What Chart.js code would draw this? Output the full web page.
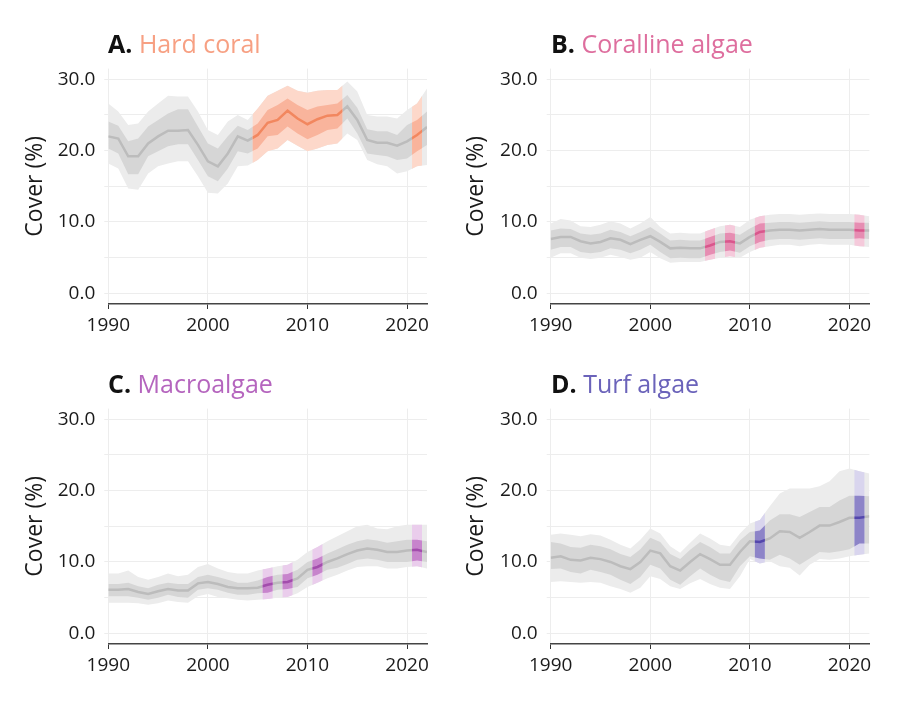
<!DOCTYPE html>
<html>
<head>
<meta charset="utf-8">
<script src="https://cdn.jsdelivr.net/npm/chart.js@4/dist/chart.umd.min.js"></script>
<style>
  body { margin: 0; background: #fff; }
  #page { position: relative; width: 900px; height: 702px; overflow: hidden; font-family: 'Open Sans', sans-serif; }
  canvas { position: absolute; }
  .ttl { position: absolute; font-size: 25px; line-height: 30px; white-space: nowrap; z-index: 2; }
  .ttl b { color: #111; font-weight: 700; }
</style>
</head>
<body>
<div id="page">
  <canvas id="cA" width="450" height="345" style="left:0;top:0"></canvas>
  <canvas id="cB" width="450" height="345" style="left:450px;top:0"></canvas>
  <canvas id="cC" width="450" height="357" style="left:0;top:345px"></canvas>
  <canvas id="cD" width="450" height="357" style="left:450px;top:345px"></canvas>
  <div class="ttl" style="left:108px;top:27.5px"><b>A.</b> <span style="color:#F7A083">Hard coral</span></div>
  <div class="ttl" style="left:551px;top:27.5px"><b>B.</b> <span style="color:#DE6E9E">Coralline algae</span></div>
  <div class="ttl" style="left:108px;top:367.5px"><b>C.</b> <span style="color:#B565BE">Macroalgae</span></div>
  <div class="ttl" style="left:551px;top:367.5px"><b>D.</b> <span style="color:#6B63BA">Turf algae</span></div>
</div>
<script>
const years = [1990, 1991, 1992, 1993, 1994, 1995, 1996, 1997, 1998, 1999, 2000, 2001, 2002, 2003, 2004, 2005,
  2006, 2007, 2008, 2009, 2010, 2011, 2012, 2013, 2014, 2015, 2016, 2017, 2018, 2019, 2020, 2021, 2022];
const yTicks = [0, 10, 20, 30];

// A. Hard coral
const coralMid  = [22.0, 21.7, 19.2, 19.2, 21.0, 22.0, 22.8, 22.8, 22.9, 20.8, 18.5, 17.8, 19.6, 22.0, 21.4, 22.2, 23.9, 24.3, 25.6, 24.5, 23.7, 24.4, 24.9, 25.0, 26.2, 24.3, 21.5, 21.1, 21.1, 20.7, 21.3, 22.2, 23.3];
const coralHi50 = [24.1, 23.5, 21.3, 21.7, 23.4, 24.3, 25.2, 25.8, 25.8, 23.4, 21.0, 20.3, 22.0, 23.5, 22.9, 23.8, 25.7, 26.4, 27.3, 26.4, 25.7, 26.2, 26.4, 26.6, 27.8, 26.0, 23.0, 22.7, 22.7, 22.2, 23.6, 24.3, 25.5];
const coralLo50 = [20.3, 19.6, 16.7, 16.7, 19.2, 19.9, 20.6, 20.9, 20.9, 18.7, 16.4, 15.7, 17.5, 19.9, 19.6, 20.3, 22.0, 22.2, 23.4, 22.4, 21.6, 22.2, 22.9, 23.1, 24.5, 22.4, 19.6, 19.4, 19.2, 18.7, 18.9, 19.9, 20.8];
const coralHi80 = [26.6, 25.5, 23.6, 23.8, 25.5, 26.6, 27.7, 27.6, 27.6, 25.5, 22.9, 22.2, 24.1, 25.0, 24.3, 25.9, 27.7, 28.4, 29.1, 28.4, 28.1, 28.4, 28.5, 28.5, 29.7, 28.3, 25.0, 24.8, 24.8, 24.5, 25.7, 26.6, 28.7];
const coralLo80 = [18.2, 17.5, 14.7, 14.5, 16.8, 17.8, 18.2, 18.5, 18.5, 16.4, 14.1, 14.0, 15.4, 17.8, 17.9, 18.7, 19.9, 20.3, 21.5, 20.7, 19.9, 20.3, 20.8, 21.0, 22.4, 21.5, 18.7, 18.1, 17.8, 16.8, 17.1, 17.8, 18.0];
const coralObs  = [2005, 2006, 2007, 2008, 2009, 2010, 2011, 2012, 2013, 2021];

// B. Coralline algae
const ccaMid  = [7.6, 7.9, 7.9, 7.3, 7.0, 7.2, 7.7, 7.5, 6.9, 7.5, 8.0, 7.2, 6.3, 6.4, 6.3, 6.3, 6.7, 7.2, 7.3, 7.0, 7.9, 8.6, 8.8, 8.9, 8.9, 8.8, 8.9, 9.0, 8.9, 8.9, 8.9, 8.8, 8.8];
const ccaHi50 = [8.8, 9.1, 9.0, 8.4, 8.2, 8.4, 8.9, 8.6, 8.0, 8.6, 9.3, 8.4, 7.4, 7.5, 7.4, 7.4, 7.9, 8.4, 8.5, 8.2, 9.1, 9.8, 9.9, 10.0, 10.0, 9.9, 10.0, 10.1, 10.0, 10.0, 10.0, 9.9, 9.9];
const ccaLo50 = [6.1, 6.5, 6.5, 5.8, 5.6, 5.8, 6.3, 6.1, 5.6, 6.1, 6.8, 5.8, 4.9, 5.0, 4.9, 4.9, 5.4, 5.8, 6.0, 5.7, 6.6, 7.2, 7.5, 7.6, 7.6, 7.5, 7.6, 7.7, 7.6, 7.6, 7.6, 7.7, 7.6];
const ccaHi80 = [9.8, 10.4, 10.2, 9.4, 9.3, 9.6, 10.1, 9.8, 9.1, 9.8, 10.7, 9.3, 8.4, 8.5, 8.4, 8.4, 8.9, 9.4, 9.6, 9.3, 10.3, 10.8, 11.0, 11.1, 11.1, 11.0, 11.1, 11.2, 11.1, 11.1, 11.1, 11.0, 10.8];
const ccaLo80 = [5.0, 5.6, 5.6, 5.0, 4.8, 5.0, 5.4, 5.1, 4.7, 5.0, 5.8, 4.9, 4.3, 4.4, 4.4, 4.4, 4.7, 5.0, 5.2, 5.0, 5.8, 6.4, 6.6, 6.8, 6.8, 6.6, 6.8, 6.9, 6.8, 6.8, 6.8, 6.6, 6.5];
const ccaObs  = [2006, 2008, 2011, 2021];

// C. Macroalgae
const macroMid  = [6.1, 6.1, 6.2, 5.8, 5.5, 5.9, 6.2, 6.0, 6.0, 7.0, 7.2, 6.9, 6.5, 6.3, 6.3, 6.4, 6.8, 7.1, 7.2, 7.7, 8.9, 9.3, 10.0, 10.5, 11.1, 11.6, 11.9, 11.7, 11.4, 11.4, 11.6, 11.7, 11.4];
const macroHi50 = [6.9, 6.9, 7.1, 6.6, 6.3, 6.8, 7.1, 6.9, 6.9, 7.9, 8.2, 7.9, 7.5, 7.1, 7.1, 7.4, 7.9, 8.2, 8.3, 8.9, 10.0, 10.5, 11.2, 11.8, 12.4, 12.9, 13.2, 13.0, 12.7, 12.9, 13.1, 13.1, 12.9];
const macroLo50 = [5.2, 5.2, 5.2, 5.0, 4.7, 5.0, 5.4, 5.1, 5.0, 6.1, 6.3, 6.1, 5.7, 5.4, 5.4, 5.6, 5.7, 6.1, 6.2, 6.5, 7.7, 8.2, 8.9, 9.2, 9.7, 10.3, 10.5, 10.3, 10.0, 10.0, 10.0, 10.2, 10.0];
const macroHi80 = [8.4, 8.4, 8.8, 7.9, 7.5, 7.9, 8.4, 8.0, 8.2, 9.3, 9.7, 9.1, 8.6, 8.4, 8.4, 8.8, 9.1, 9.4, 9.6, 10.3, 11.4, 12.1, 12.9, 13.6, 14.3, 15.0, 15.2, 14.7, 14.6, 15.0, 15.2, 15.2, 15.2];
const macroLo80 = [4.3, 4.3, 4.3, 4.2, 4.0, 4.2, 4.6, 4.4, 4.3, 5.2, 5.5, 5.1, 4.9, 4.7, 4.6, 4.7, 4.8, 5.0, 5.1, 5.6, 6.5, 7.1, 7.7, 8.2, 8.8, 9.3, 9.4, 9.4, 9.1, 9.1, 9.3, 9.4, 9.1];
const macroObs  = [2006, 2008, 2011, 2021];

// D. Turf algae
const turfMid  = [10.6, 10.8, 10.3, 10.2, 10.6, 10.4, 10.0, 9.4, 9.0, 10.0, 11.6, 11.2, 9.4, 8.8, 10.0, 11.1, 10.4, 9.6, 9.6, 11.4, 12.9, 12.8, 13.3, 14.3, 14.2, 13.4, 14.2, 15.1, 15.1, 15.6, 16.2, 16.2, 16.4];
const turfHi50 = [12.8, 12.6, 12.1, 12.0, 12.4, 12.2, 11.8, 11.1, 10.7, 11.8, 13.4, 12.8, 11.1, 10.4, 11.7, 12.8, 12.1, 11.2, 11.2, 13.0, 14.2, 14.4, 15.8, 16.7, 16.7, 16.3, 17.0, 17.7, 17.7, 18.6, 19.3, 19.3, 19.2];
const turfLo50 = [9.0, 9.1, 8.6, 8.4, 8.9, 8.6, 8.2, 7.5, 6.9, 7.9, 9.6, 9.1, 7.5, 6.8, 8.0, 9.1, 8.2, 7.5, 7.2, 9.4, 10.8, 10.5, 10.3, 11.0, 10.5, 9.6, 10.5, 11.4, 11.3, 11.5, 11.8, 12.6, 12.6];
const turfHi80 = [13.8, 14.0, 13.8, 13.6, 13.9, 13.7, 13.1, 12.4, 11.9, 13.1, 14.7, 14.0, 12.2, 11.3, 12.7, 14.0, 13.3, 12.4, 12.2, 14.0, 15.4, 15.9, 17.8, 19.6, 20.3, 20.3, 20.3, 20.6, 21.3, 22.7, 23.1, 22.7, 22.4];
const turfLo80 = [7.2, 7.3, 7.2, 7.1, 7.2, 7.1, 6.6, 6.2, 5.7, 6.4, 8.0, 7.6, 6.6, 6.2, 7.0, 7.6, 6.9, 6.4, 6.2, 8.0, 10.4, 9.8, 10.1, 9.4, 9.2, 8.1, 9.6, 10.4, 10.3, 10.5, 10.8, 11.0, 11.2];
const turfObs  = [2011, 2021];

const grey = { outer: '#ECECEC', inner: '#D6D6D6', line: '#BCBCBC' };

// clip a dataset (and its fill) to the observed years, +/- half a year
const yearClip = {
  id: 'yearClip',
  beforeDatasetDraw(chart, args) {
    const ds = chart.data.datasets[args.index];
    if (!ds.years) return;
    const { ctx, chartArea, scales: { x } } = chart;
    ctx.save();
    ctx.beginPath();
    ds.years.forEach(yr => {
      const l = x.getPixelForValue(yr - 0.5);
      const r = x.getPixelForValue(yr + 0.5);
      ctx.rect(l, chartArea.top, r - l, chartArea.bottom - chartArea.top);
    });
    ctx.clip();
  },
  afterDatasetDraw(chart, args) {
    if (chart.data.datasets[args.index].years) chart.ctx.restore();
  }
};
// the clip has to be in place before the filler paints the band
const filler = Chart.registry.getPlugin('filler');
Chart.unregister(filler);
Chart.register(yearClip, filler);

const pts = arr => years.map((yr, i) => ({ x: yr, y: arr[i] }));

function bandSets(s, col, obs) {
  const base = { pointRadius: 0, tension: 0, borderWidth: 0, years: obs };
  return [
    { ...base, data: pts(s.hi80), fill: '+1', backgroundColor: col.outer },
    { ...base, data: pts(s.lo80), fill: false },
    { ...base, data: pts(s.hi50), fill: '+1', backgroundColor: col.inner },
    { ...base, data: pts(s.lo50), fill: false },
    { ...base, data: pts(s.mid), fill: false, borderWidth: 2.5, borderColor: col.line }
  ];
}

function panel(id, s, col, obs, lay) {
  const sets = bandSets(s, grey, undefined).concat(bandSets(s, col, obs));
  sets.forEach((d, i) => { d.order = sets.length - i; });
  new Chart(document.getElementById(id), {
    type: 'line',
    data: { datasets: sets },
    options: {
      responsive: false,
      animation: false,
      layout: { padding: lay.pad },
      plugins: { legend: { display: false }, tooltip: { enabled: false } },
      scales: {
        x: {
          type: 'linear', min: 1990, max: 2022,
          afterFit: sc => { sc.height = 40; },
          ticks: { stepSize: 10, includeBounds: false, padding: 5, color: '#1a1a1a',
                   font: { family: 'Open Sans', size: 19 }, callback: v => String(v) },
          grid: { color: '#EDEDED', tickColor: '#333', tickLength: 5, lineWidth: 1 },
          border: { display: true, color: '#444', width: 1.5 }
        },
        y: {
          min: -1.5, max: 31.5,
          afterFit: sc => { sc.width = lay.yw; },
          ticks: { stepSize: 5, includeBounds: false, padding: 9, color: '#1a1a1a',
                   font: { family: 'Open Sans', size: 19 },
                   callback: v => yTicks.includes(v) ? v.toFixed(1) : '' },
          grid: { color: '#EDEDED', tickColor: '#EDEDED', tickLength: 4, lineWidth: 1 },
          border: { display: false },
          title: { display: true, text: 'Cover (%)', color: '#1a1a1a',
                   font: { family: 'Open Sans', size: 23 }, padding: { top: lay.tp, bottom: 0 } }
        }
      }
    }
  });
}

const layTop  = { pad: { top: 68.6, right: 23, bottom: 1, left: 0 }, yw: 108.3, tp: 21.2 };
const layTopR = { pad: { top: 68.6, right: 30.6, bottom: 1, left: 0 }, yw: 100.7, tp: 12.9 };
const layBot  = { pad: { top: 63.6, right: 23, bottom: 18, left: 0 }, yw: 108.3, tp: 21.2 };
const layBotR = { pad: { top: 63.6, right: 30.6, bottom: 18, left: 0 }, yw: 100.7, tp: 12.9 };

panel('cA', { mid: coralMid, hi50: coralHi50, lo50: coralLo50, hi80: coralHi80, lo80: coralLo80 },
  { outer: '#FDD8CA', inner: '#F9B49C', line: '#F2875F' }, coralObs, layTop);
panel('cB', { mid: ccaMid, hi50: ccaHi50, lo50: ccaLo50, hi80: ccaHi80, lo80: ccaLo80 },
  { outer: '#F5CADB', inner: '#E68DB2', line: '#D9568C' }, ccaObs, layTopR);
panel('cC', { mid: macroMid, hi50: macroHi50, lo50: macroLo50, hi80: macroHi80, lo80: macroLo80 },
  { outer: '#EACDEC', inner: '#C784CC', line: '#A24CAC' }, macroObs, layBot);
panel('cD', { mid: turfMid, hi50: turfHi50, lo50: turfLo50, hi80: turfHi80, lo80: turfLo80 },
  { outer: '#D9D5EE', inner: '#8D84C8', line: '#5346AC' }, turfObs, layBotR);
</script>
</body>
</html>
